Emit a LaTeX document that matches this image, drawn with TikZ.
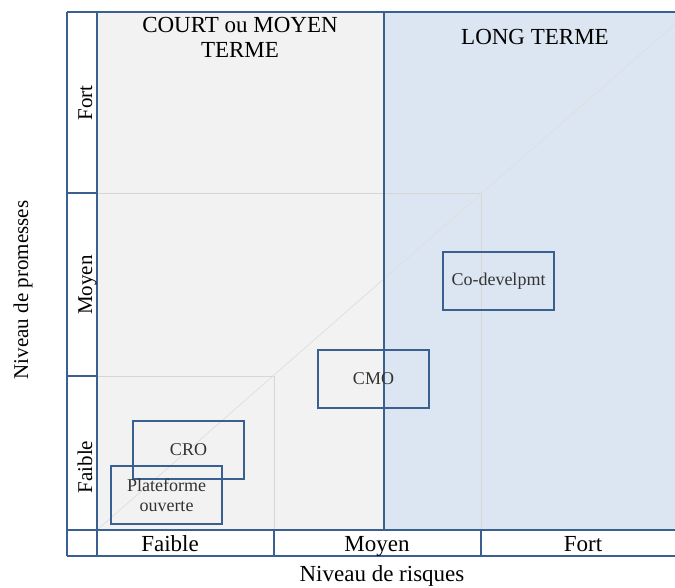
\documentclass[tikz,border=0pt]{standalone}
\usepackage{fontspec}
\setmainfont{Liberation Serif}
\definecolor{frameblue}{HTML}{3A5F91}
\definecolor{greyfill}{HTML}{F2F2F2}
\definecolor{bluefill}{HTML}{DCE6F2}
\definecolor{faint}{HTML}{D6D6D6}
\begin{document}
\begin{tikzpicture}[x=1pt,y=-1pt,
  bigtext/.style={font=\fontsize{23}{25}\selectfont, text=black, inner sep=0pt},
  sidetext/.style={font=\fontsize{21}{23}\selectfont, text=black, inner sep=0pt, rotate=90, anchor=base},
  boxtext/.style={font=\fontsize{18}{20}\selectfont, text=black!80},
  zonebox/.style={draw=frameblue, line width=2.5pt, minimum width=111pt, minimum height=58pt, inner sep=0pt, align=center, boxtext},
  gridline/.style={draw=frameblue, line width=2.5pt},
  faintline/.style={draw=faint, line width=1pt}]
\useasboundingbox (0,0) rectangle (675,587);
\fill[white] (0,0) rectangle (675,587);
% zone fills
\fill[greyfill] (97,12) rectangle (384,530);
\fill[bluefill] (384,12) rectangle (675,530);
% faint inner squares and diagonal
\draw[faintline] (97,193) -- (481,193) -- (481,530);
\draw[faintline] (97,376) -- (274,376) -- (274,530);
\draw[draw=faint!80, line width=0.7pt] (97,530) -- (675,24);
% frame grid
\draw[gridline] (67,12) -- (675,12);
\draw[gridline] (67,12) -- (67,556);
\draw[gridline] (97,12) -- (97,556);
\draw[gridline] (67,530) -- (675,530);
\draw[gridline] (67,556) -- (675,556);
\draw[gridline] (67,193) -- (97,193);
\draw[gridline] (67,376) -- (97,376);
\draw[gridline] (274,530) -- (274,556);
\draw[gridline] (481,530) -- (481,556);
\draw[gridline] (384,12) -- (384,530);
% headers
\node[bigtext, align=center] (hcourt) at (240,37) {COURT ou MOYEN\\TERME};
\node[bigtext] (hlong) at (535,37) {LONG TERME};
% left labels
\node[sidetext] (lfort) at (92,103) {Fort};
\node[sidetext] (lmoyen) at (92,285) {Moyen};
\node[sidetext] (lfaible) at (92,467) {Faible};
% bottom labels
\node[bigtext, anchor=base] (bfaible) at (170,551) {Faible};
\node[bigtext, anchor=base] (bmoyen) at (377,551) {Moyen};
\node[bigtext, anchor=base] (bfort) at (583,551) {Fort};
% axis titles
\node[sidetext] (ytitle) at (28,290) {Niveau de promesses};
\node[bigtext] (xtitle) at (382,576) {Niveau de risques};
% zone boxes
\node[zonebox] (codev) at (498.5,281) {Co-develpmt};
\node[zonebox] (cmo) at (373.5,379) {CMO};
\node[zonebox] (cro) at (188.5,450) {CRO};
\node[zonebox] (plat) at (166.5,495) {Plateforme\\ouverte};
\end{tikzpicture}
\end{document}
